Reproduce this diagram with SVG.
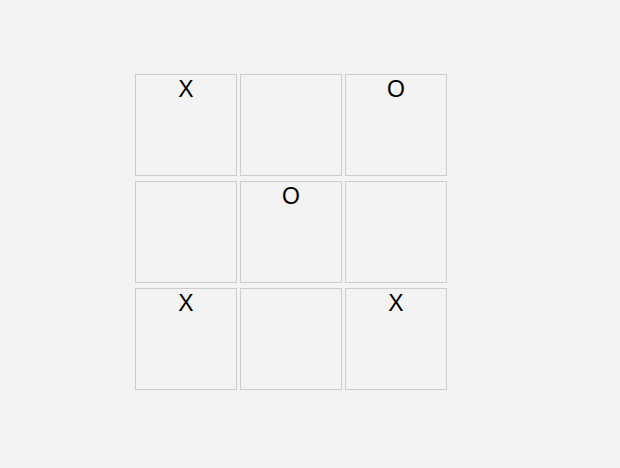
<svg xmlns="http://www.w3.org/2000/svg" width="620" height="468" viewBox="0 0 620 468">
<style>
.cell{fill:#f3f3f3;stroke:#cccccc;stroke-width:1}
.mark{font-family:"Liberation Sans",Arial,sans-serif;font-size:23px;fill:#000;text-anchor:middle}
</style>
<rect width="620" height="468" fill="#f3f3f3"/>
<g id="c00"><rect class="cell" x="135.5" y="74.5" width="101" height="101"/><text class="mark" x="186" y="97">X</text></g>
<g id="c01"><rect class="cell" x="240.5" y="74.5" width="101" height="101"/></g>
<g id="c02"><rect class="cell" x="345.5" y="74.5" width="101" height="101"/><text class="mark" x="396" y="97">O</text></g>
<g id="c10"><rect class="cell" x="135.5" y="181.5" width="101" height="101"/></g>
<g id="c11"><rect class="cell" x="240.5" y="181.5" width="101" height="101"/><text class="mark" x="291" y="204">O</text></g>
<g id="c12"><rect class="cell" x="345.5" y="181.5" width="101" height="101"/></g>
<g id="c20"><rect class="cell" x="135.5" y="288.5" width="101" height="101"/><text class="mark" x="186" y="311">X</text></g>
<g id="c21"><rect class="cell" x="240.5" y="288.5" width="101" height="101"/></g>
<g id="c22"><rect class="cell" x="345.5" y="288.5" width="101" height="101"/><text class="mark" x="396" y="311">X</text></g>
<g id="connectors"></g>
</svg>
